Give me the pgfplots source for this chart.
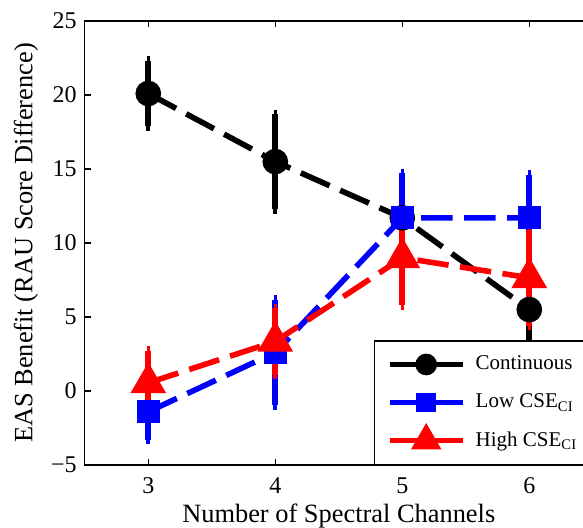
\documentclass[border=0pt]{standalone}
\usepackage{fontspec}
\setmainfont{Liberation Serif}
\usepackage{pgfplots}
\pgfplotsset{compat=1.18}
\begin{document}
\begin{tikzpicture}
\begin{axis}[
  name=ax, at={(0,0)}, anchor=south west,
  width=254pt, height=222pt, scale only axis,
  xmin=2.5, xmax=6.5, ymin=-5, ymax=25,
  xtick={3,4,5,6}, xticklabels={3,4,5,6},
  ytick={-5,0,5,10,15,20,25}, yticklabels={−5,0,5,10,15,20,25},
  tick align=inside, major tick length=3pt,
  tick style={black, line width=0.6pt},
  axis line style={line width=0.6pt},
  ticklabel style={font=\fontsize{12}{14}\selectfont},
  xticklabel style={yshift=-3pt},
  yticklabel style={xshift=-0.5pt},
  xlabel={Number of Spectral Channels},
  ylabel={EAS Benefit (RAU Score Difference)},
  every axis x label/.style={at={(axis description cs:0.5,0)}, anchor=base, yshift=-29pt, font=\fontsize{13.2}{15}\selectfont},
  every axis y label/.style={at={(axis description cs:-0.1161,0.5)}, anchor=center, rotate=90, font=\fontsize{13.2}{15}\selectfont},
  legend style={at={(1,0)}, anchor=south east, draw=black, line width=0.6pt,
    font=\fontsize{10.5}{12}\selectfont, inner xsep=7.5pt, inner ysep=7.5pt,
    nodes={inner sep=0pt, anchor=west}, column sep=6.5pt, row sep=10.5pt},
  legend cell align=left,
  legend image code/.code={%
    \begin{pgfinterruptboundingbox}
    \draw[mark repeat=2,mark phase=2,#1,solid,every mark/.append style={scale=0.8}] plot coordinates {(0pt,0pt) (18.25pt,0pt) (36.5pt,0pt)};
    \end{pgfinterruptboundingbox}
    \path[draw=none,fill=none] (0pt,-3pt) rectangle (36.5pt,3pt);
  },
  every axis plot/.append style={line width=2.8pt, dash pattern=on 15.75pt off 5.75pt},
  error bars/error bar style={solid, line width=3pt},
  error bars/error mark options={solid, line width=1.8pt, mark size=2.3pt},
]
\addplot[black, mark=*, mark size=5pt, mark options={solid, fill=black},
  error bars/.cd, y dir=both, y explicit]
  coordinates {(3,20.1) +- (0,2.2) (4,15.5) +- (0,3.2) (5,11.7) +- (0,2.65) (6,5.5) +- (0,3.0)};
\addlegendentry{Continuous}
\addplot[blue, mark=square*, mark size=4.4pt, mark options={solid, fill=blue},
  error bars/.cd, y dir=both, y explicit]
  coordinates {(3,-1.4) +- (0,1.9) (4,2.6) +- (0,3.55) (5,11.7) +- (0,3.0) (6,11.7) +- (0,2.9)};
\addlegendentry{Low CSE\textsubscript{CI}}
\addplot[red, mark=triangle*, mark size=7.5pt, mark options={solid, fill=red},
  error bars/.cd, y dir=both, y explicit]
  coordinates {(3,0.55) +- (0,2.15) (4,3.35) +- (0,2.25) (5,9.0) +- (0,3.2) (6,7.65) +- (0,3.25)};
\addlegendentry{High CSE\textsubscript{CI}}
\end{axis}
\pgfresetboundingbox
\path[use as bounding box] (-42.4pt,-31.5pt) rectangle (249.1pt,232.5pt);
\end{tikzpicture}
\end{document}
